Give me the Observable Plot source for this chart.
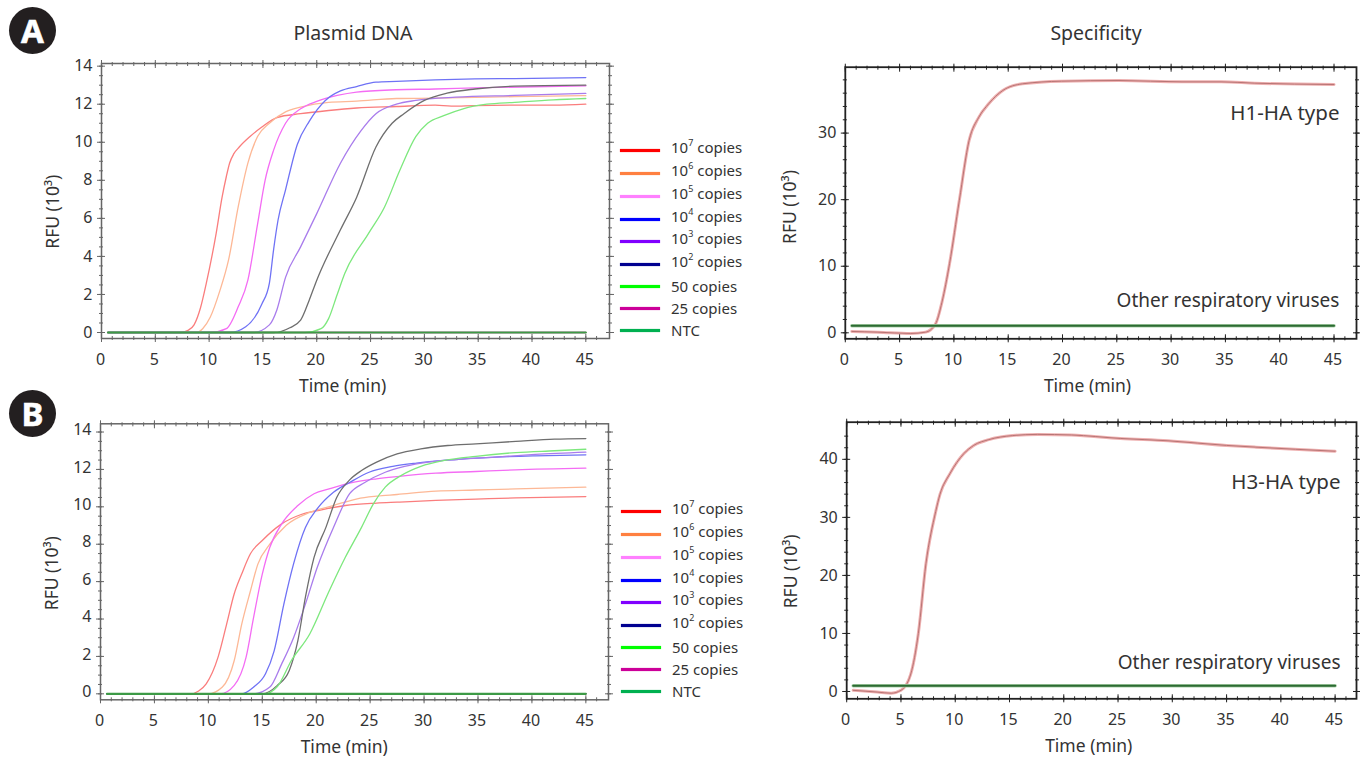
<!DOCTYPE html>
<html><head><meta charset="utf-8">
<script src="https://cdn.jsdelivr.net/npm/d3@7"></script>
<script src="https://cdn.jsdelivr.net/npm/@observablehq/plot@0.6"></script>
<style>
html,body{margin:0;padding:0;background:#fff;}
#page{position:relative;width:1360px;height:758px;overflow:hidden;font-family:"Noto Sans",sans-serif;color:#333;}
#page svg{position:absolute;background:transparent;overflow:visible;}
.title{position:absolute;top:20px;font-size:19.5px;line-height:26px;transform:translateX(-50%);white-space:nowrap;}
.badge{position:absolute;left:9px;width:47px;height:47px;border-radius:50%;background:#231f20;color:#fff;font:bold 33px/47px "Noto Sans",sans-serif;text-align:center;-webkit-text-stroke:0.6px #fff;}
.lg{position:absolute;font-size:15px;line-height:18px;white-space:nowrap;transform:translateY(-50%);color:#333;}
.lg sup{font-size:9px;line-height:0;position:relative;top:-1px;vertical-align:super;}
.sw{position:absolute;width:40px;height:3px;}
</style></head><body><div id="page"></div>
<script>
// Panel A, plasmid DNA: [time in min, RFU in thousands]
const a7=[[0.6,0],[7.35,0],[8,0.1],[8.6,0.4],[9.2,1.3],[9.73,2.57],[10.65,5.2],[11.2,7.1],[11.6,8.2],[11.9,8.9],[12.3,9.4],[12.8,9.75],[13.8,10.3],[14.9,10.8],[16.3,11.3],[18.5,11.5],[21.1,11.67],[23.7,11.8],[27.4,11.88],[31,11.95],[32.5,11.9],[34.7,11.93],[38.4,11.95],[42,11.95],[45,12]];
const a6=[[0.6,0],[8.8,0],[9.4,0.2],[10.1,0.8],[11,2.2],[11.8,3.8],[12.7,6.6],[13.6,8.9],[14.5,10.3],[15.6,11],[17.1,11.6],[18.5,11.85],[21.1,12.1],[23.7,12.16],[27.4,12.3],[31,12.32],[34.7,12.36],[38.4,12.4],[45,12.45]];
const a5=[[0.6,0],[10.1,0],[11.6,0.2],[12.7,1.35],[13.6,2.75],[14.5,5.7],[15.2,8],[16,9.6],[17.1,11],[18.5,11.76],[20,12.15],[21.9,12.46],[23.7,12.64],[27.4,12.76],[31,12.8],[34.7,12.86],[45,12.97]];
const a4=[[0.6,0],[11.9,0],[13.4,0.3],[14.9,1.5],[15.6,2.6],[16,4.4],[16.4,5.9],[17.1,7.5],[18.2,9.9],[19.3,11.1],[20.8,12.2],[22.2,12.7],[23.7,12.93],[25.5,13.16],[27.4,13.2],[31,13.28],[34.7,13.33],[38.4,13.35],[45,13.4]];
const a3=[[0.6,0],[14.1,0],[15.6,0.4],[16.3,1.2],[17.1,2.9],[18.5,4.5],[20,6.25],[22.2,8.9],[24.1,10.6],[25.5,11.5],[27.4,12],[29.2,12.2],[32.9,12.37],[38.4,12.46],[45,12.57]];
const a2=[[0.6,0],[16,0],[17.5,0.25],[18.5,0.65],[19.3,1.7],[20,2.75],[22.2,5.4],[23.7,7.1],[25.5,9.75],[27,11],[28.1,11.5],[30,12.2],[32.1,12.58],[34.7,12.8],[38.4,12.95],[45,13]];
const a50=[[0.6,0],[18.9,0],[20.4,0.2],[21.1,0.73],[21.9,2],[22.6,3.1],[24.8,5.2],[26.3,6.6],[27.7,8.5],[29.2,10.3],[30.3,11],[31.8,11.4],[33.6,11.76],[35.8,12],[38.4,12.1],[42,12.23],[45,12.3]];
// Panel B, plasmid DNA
const b7=[[0.6,0],[8.4,0],[9.1,0.15],[9.8,0.53],[10.9,1.96],[11.7,3.74],[12.4,5.35],[13.1,6.42],[13.9,7.49],[15,8.2],[16.8,9.09],[18.6,9.59],[20.5,9.84],[22.7,10.07],[25.6,10.2],[27.5,10.25],[31.1,10.34],[34.8,10.41],[38.5,10.48],[45,10.55]];
const b6=[[0.6,0],[10,0],[11.3,0.36],[12.4,1.78],[13.1,3.74],[13.9,5.5],[14.6,6.95],[15.7,8],[17.2,9],[19.4,9.7],[21.6,10.07],[23.8,10.43],[25.6,10.57],[27.5,10.66],[31.1,10.84],[34.8,10.9],[38.5,10.96],[45,11.05]];
const b5=[[0.6,0],[11.1,0],[12.4,0.45],[13.5,1.96],[14.2,4.1],[15,6.4],[15.7,7.84],[16.8,9.09],[18.3,10.07],[19.8,10.7],[21.2,10.96],[23.1,11.27],[25.6,11.5],[27.5,11.62],[31.1,11.8],[34.8,11.89],[38.5,11.98],[45,12.07]];
const b4=[[0.6,0],[13.1,0],[14.2,0.36],[15.3,1.07],[16.1,2.3],[17,4.8],[17.9,6.95],[19,8.9],[20.1,9.9],[21.6,10.78],[23.1,11.3],[24.9,11.85],[27.1,12.16],[29.3,12.34],[32.2,12.5],[36.6,12.66],[40.3,12.73],[45,12.78]];
const b3=[[0.6,0],[14.2,0],[15.7,0.36],[16.8,1.6],[17.9,3],[19,4.8],[20.1,6.77],[21.6,8.9],[23.1,10.7],[24.5,11.3],[26.4,11.85],[28.2,12.16],[30.4,12.39],[33,12.53],[36.6,12.66],[40.3,12.8],[45,12.92]];
const b2=[[0.6,0],[15,0],[16.4,0.45],[17.5,1.25],[18.3,2.85],[19,5.17],[19.8,7.3],[20.9,8.9],[21.9,10.5],[23.1,11.44],[24.2,11.94],[25.6,12.39],[27.5,12.83],[29.7,13.1],[32.2,13.28],[34.8,13.37],[38.5,13.5],[42.1,13.62],[45,13.65]];
const b50=[[0.6,0],[15.2,0],[16.4,0.39],[17.7,1.78],[19.4,3.2],[21.2,5.5],[22.7,7.3],[24.2,8.9],[25.3,10.16],[26.4,11.05],[27.9,11.68],[29.7,12.16],[31.9,12.48],[34.8,12.7],[38.5,12.9],[42.1,13],[45,13.08]];
const flat=[[0.6,0],[45,0]];
// Specificity panels
const h1=[[0.6,0.2],[3,0.1],[6,-0.1],[7.4,0.1],[8.3,1.3],[8.9,4.6],[9.6,10.4],[10.5,19.9],[11.4,28.9],[12.3,32.4],[13.2,34.4],[14.5,36.4],[16.3,37.4],[19.9,37.8],[25.2,37.9],[31,37.7],[34.6,37.7],[37.7,37.5],[45,37.3]];
const h1Other=[[0.6,1.05],[45,1.05]];
const h3=[[0.6,0.2],[2.8,-0.1],[4.1,-0.3],[5,0.2],[5.9,3],[6.6,10],[7.3,22],[8.2,31],[8.6,34],[9.5,37.5],[10.8,41],[11.7,42.4],[13.1,43.4],[15.3,44.1],[17.6,44.3],[20.7,44.2],[25.2,43.6],[29.6,43.2],[35,42.4],[37.7,42.1],[45,41.4]];
const h3Other=[[0.6,1],[45,1]];

const curveColors=["#fa7d7d","#fdb896","#f46cf4","#6f72f5","#a97cec","#6e6e6e","#7de87d"];
const legendLabels=["10<sup>7</sup> copies","10<sup>6</sup> copies","10<sup>5</sup> copies","10<sup>4</sup> copies","10<sup>3</sup> copies","10<sup>2</sup> copies","50 copies","25 copies","NTC"];
const legendColors=["#ff0000","#ff8040","#ff80ff","#0000ff","#8000ff","#000090","#00ff00","#cc0099","#00b050"];
const xTicks=d3.range(0,46,5), xMinor=d3.range(0,47,1);
const page=document.getElementById("page");

function frameAxes(o){
  const c=o.axisColor, fs=o.fontSize;
  return [
    Plot.frame({stroke:c,strokeWidth:o.frameWidth}),
    Plot.axisX({anchor:"bottom",ticks:xMinor,tickSize:4,dy:-2,fill:"none",stroke:c,label:null}),
    Plot.axisX({anchor:"top",ticks:xMinor,tickSize:4,dy:2,fill:"none",stroke:c,label:null}),
    Plot.axisX({anchor:"bottom",ticks:xTicks,tickSize:8,dy:-4,fill:"none",stroke:c,label:null}),
    Plot.axisX({anchor:"top",ticks:xTicks,tickSize:8,dy:4,fill:"none",stroke:c,label:null}),
    Plot.axisY({anchor:"left",ticks:o.yMinor,tickSize:4,dx:2,fill:"none",stroke:c,label:null}),
    Plot.axisY({anchor:"right",ticks:o.yMinor,tickSize:4,dx:-2,fill:"none",stroke:c,label:null}),
    Plot.axisY({anchor:"left",ticks:o.yTicks,tickSize:8,dx:4,fill:"none",stroke:c,label:null}),
    Plot.axisY({anchor:"right",ticks:o.yTicks,tickSize:8,dx:-4,fill:"none",stroke:c,label:null}),
    Plot.axisX({anchor:"bottom",ticks:xTicks,tickSize:0,tickPadding:15,dx:-1,fontSize:fs,stroke:"none",fill:"#333",label:null}),
    Plot.axisY({anchor:"left",ticks:o.yTicks,tickSize:0,tickPadding:o.yPad,dy:o.yTickDy||0,fontSize:fs,stroke:"none",fill:"#333",label:null}),
    Plot.text(["Time (min)"],{frameAnchor:"bottom",x:()=>o.xLabelAt,dy:48,lineAnchor:"middle",fontSize:o.labelSize,fill:"#333"}),
    Plot.text(["RFU (10³)"],{frameAnchor:"left",y:()=>o.yLabelAt,dx:-o.yLabelDx,rotate:-90,textAnchor:"middle",lineAnchor:"middle",fontSize:o.labelSize,fill:"#333"})
  ];
}
function place(o,marks){
  const p=Plot.plot({width:o.w,height:o.h,marginLeft:o.ml,marginRight:o.mr,marginTop:o.mt,marginBottom:o.mb,
    x:{domain:o.xd},y:{domain:o.yd},style:{fontFamily:'"Noto Sans",sans-serif',background:"transparent"},
    marks:[...marks,...frameAxes(o)]});
  p.style.left=o.left+"px";p.style.top=o.top+"px";
  page.appendChild(p);
}
const line=(d,opt)=>Plot.line(d,{x:"0",y:"1",curve:"monotone-x",...opt});
function plasmid(o,series){
  place(o,[
    line(flat,{stroke:"#cc0099",strokeWidth:1.5}),
    ...series.map((d,i)=>line(d,{stroke:curveColors[i],strokeWidth:1.3})),
    line(flat,{stroke:"#3d9a46",strokeWidth:2.2})
  ]);
}
function specific(o,curve,other,texts){
  place(o,[
    line(curve,{stroke:"#eeb0b0",strokeWidth:3}),
    line(curve,{stroke:"#b87474",strokeWidth:1}),
    line(other,{stroke:"#a9cfa9",strokeWidth:3.5}),
    line(other,{stroke:"#2c6b32",strokeWidth:2}),
    Plot.text(texts.slice(0,1),{x:"x",y:"y",text:"t",textAnchor:"end",fontSize:20.5,fill:"#333"}),
    Plot.text(texts.slice(1),{x:"x",y:"y",text:"t",textAnchor:"end",fontSize:19,fill:"#333"})
  ]);
}
const base={w:620,h:390,ml:101,mr:11,mt:63,mb:52,left:0,top:0,axisColor:"#666",frameWidth:1.5,fontSize:16,labelSize:17.5,yPad:9,yLabelDx:48,xLabelAt:22.4};
const yTicksA=d3.range(0,15,2), yMinorA=d3.range(0,14.5,0.5);
plasmid({...base,xd:[0,47.2],yd:[-0.315,14.14],yTicks:yTicksA,yMinor:yMinorA,yLabelAt:6.35},[a7,a6,a5,a4,a3,a2,a50]);
plasmid({...base,top:390,h:368,mt:33.3,mb:58.7,ml:100,mr:12,xd:[0,47.1],yd:[-0.32,14.44],yTicks:yTicksA,yMinor:yMinorA,yLabelAt:6.45,xLabelAt:22.6,yTickDy:-2},[b7,b6,b5,b4,b3,b2,b50]);
const baseR={w:660,h:390,mr:4,left:700,axisColor:"#222",frameWidth:1.8,fontSize:16,labelSize:17.5,yPad:9,yLabelDx:55,xLabelAt:22.3};
specific({...baseR,ml:144.8,mt:66.7,mb:51.7,top:0,xd:[0,47.07],yd:[-0.9,39.9],yTicks:[0,10,20,30],yMinor:d3.range(0,40,2),yLabelAt:18.9},h1,h1Other,
  [{t:"H1-HA type",x:45.5,y:33},{t:"Other respiratory viruses",x:45.5,y:4.8}]);
specific({...baseR,ml:146.2,mt:31.7,mb:59.7,h:368,top:390,xd:[0,46.97],yd:[-1.26,46.4],yTicks:[0,10,20,30,40],yMinor:d3.range(0,46,2),yLabelAt:20.7},h3,h3Other,
  [{t:"H3-HA type",x:45.5,y:36},{t:"Other respiratory viruses",x:45.5,y:5}]);

// titles, badges, legends
[["Plasmid DNA",353],["Specificity",1096]].forEach(([t,x])=>{const d=document.createElement("div");d.className="title";d.textContent=t;d.style.left=x+"px";page.appendChild(d);});
[["A",7],["B",390]].forEach(([t,y])=>{const d=document.createElement("div");d.className="badge";d.textContent=t;d.style.top=y+"px";page.appendChild(d);});
function legend(x,ys){
  legendLabels.forEach((l,i)=>{
    const s=document.createElement("div");s.className="sw";s.style.cssText=`left:${x}px;top:${ys[i]-1.5}px;background:${legendColors[i]};box-shadow:0 0 1px ${legendColors[i]}`;page.appendChild(s);
    const d=document.createElement("div");d.className="lg";d.innerHTML=l;d.style.left=(x+51)+"px";d.style.top=(ys[i]-(i<6?3:0))+"px";page.appendChild(d);
  });
}
legend(620,[150,173,196,219,241,264,286,308,330]);
legend(621,[511,534,557,580,602,625,647,669,691]);
</script></body></html>
